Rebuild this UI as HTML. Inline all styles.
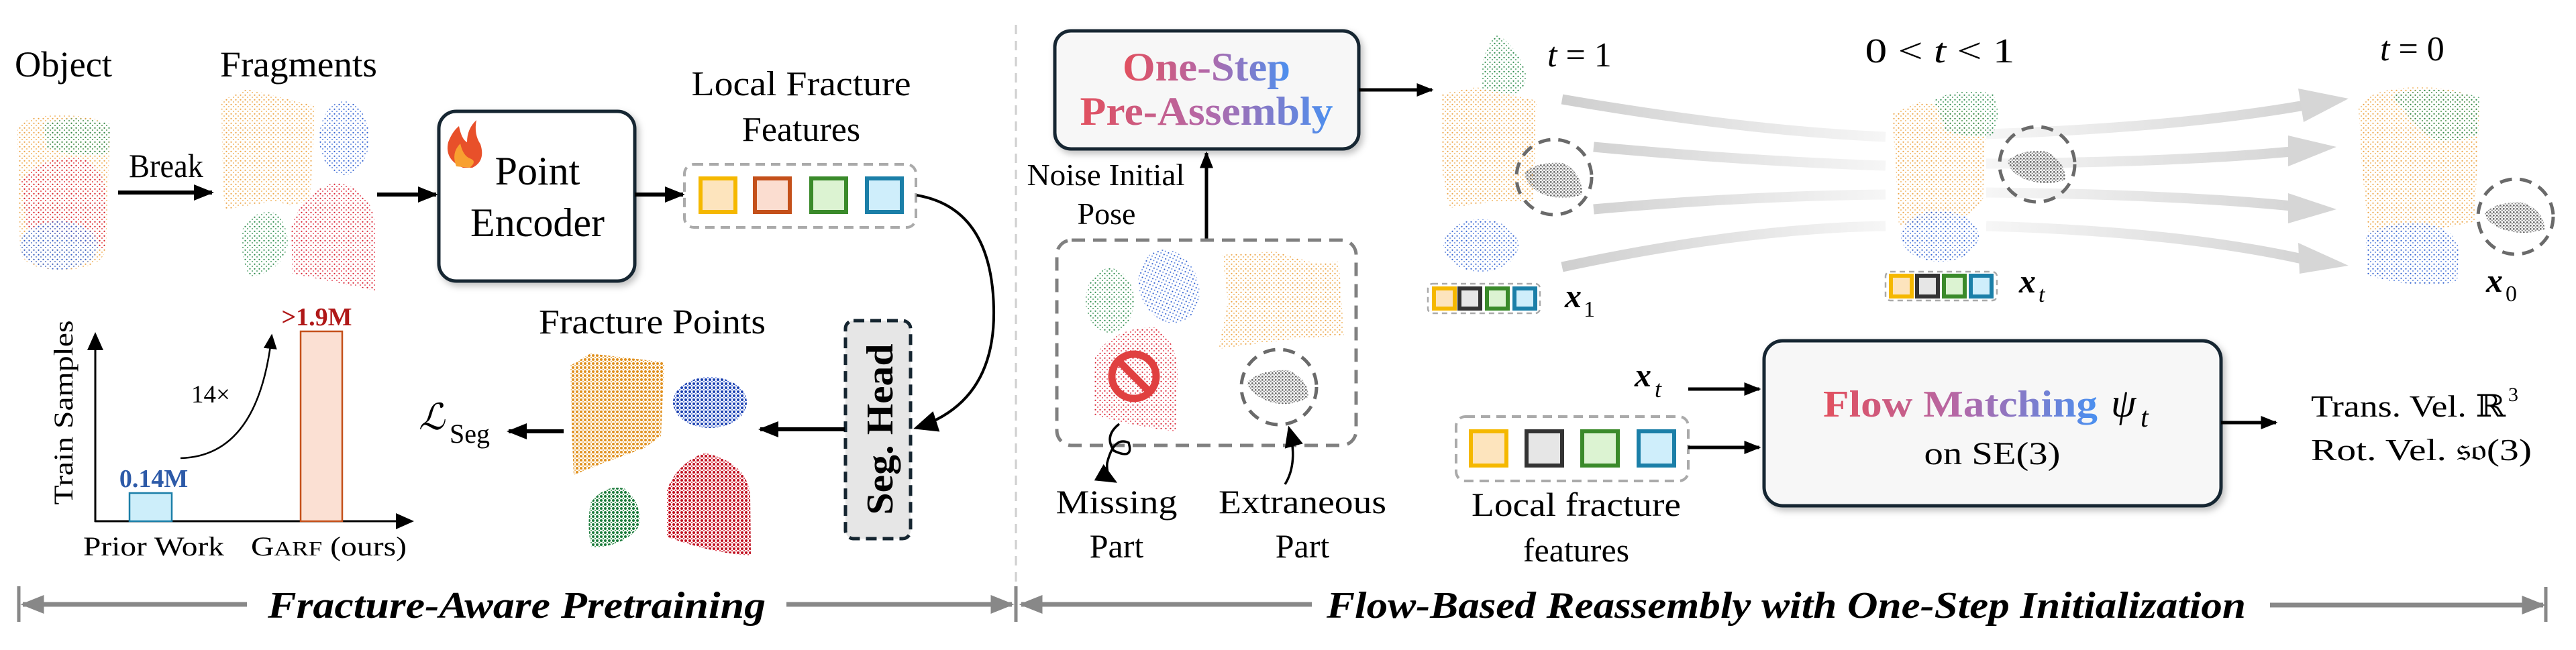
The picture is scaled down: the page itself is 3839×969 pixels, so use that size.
<!DOCTYPE html>
<html><head><meta charset="utf-8"><style>
html,body{margin:0;padding:0;background:#fff;}
svg{display:block;}
svg text{font-family:"Liberation Serif","DejaVu Serif",serif;}
</style></head><body>
<svg width="3839" height="969" viewBox="0 0 3839 969" xmlns="http://www.w3.org/2000/svg" font-family="'Liberation Serif', 'DejaVu Serif', serif">
<defs>
<marker id="ah" markerWidth="5" markerHeight="4" refX="4.5" refY="2" orient="auto" markerUnits="strokeWidth"><path d="M0,0 L5,2 L0,4 z" fill="#000"/></marker>
<marker id="ahs" markerWidth="9" markerHeight="8" refX="8" refY="4" orient="auto" markerUnits="strokeWidth"><path d="M0,0 L9,4 L0,8 z" fill="#000"/></marker>
<marker id="ag" markerWidth="5" markerHeight="4" refX="4.5" refY="2" orient="auto" markerUnits="strokeWidth"><path d="M0,0 L5,2 L0,4 z" fill="#888"/></marker>
<pattern id="pO" width="7" height="7" patternUnits="userSpaceOnUse"><circle cx="1.5" cy="1.8" r="1.1" fill="#eca548"/><circle cx="5" cy="5" r="1" fill="#f2b868"/></pattern>
<pattern id="pB" width="7" height="7" patternUnits="userSpaceOnUse"><circle cx="1.5" cy="1.8" r="1.1" fill="#2f5fd0"/><circle cx="5" cy="5" r="1" fill="#6088e0"/></pattern>
<pattern id="pG" width="7" height="7" patternUnits="userSpaceOnUse"><circle cx="1.5" cy="1.8" r="1.1" fill="#2a8a4a"/><circle cx="5" cy="5" r="1" fill="#50a068"/></pattern>
<pattern id="pR" width="7" height="7" patternUnits="userSpaceOnUse"><circle cx="1.5" cy="1.8" r="1.1" fill="#d82030"/><circle cx="5" cy="5" r="1" fill="#e85060"/></pattern>
<pattern id="pK" width="5" height="5" patternUnits="userSpaceOnUse"><circle cx="1.3" cy="1.3" r="1.4" fill="#6a6a6a"/><circle cx="3.8" cy="3.6" r="1.2" fill="#909090"/></pattern>
<pattern id="dO" width="6" height="6" patternUnits="userSpaceOnUse"><circle cx="2" cy="2" r="2" fill="#e0901e"/><circle cx="5" cy="5" r="1.1" fill="#f0b860"/></pattern>
<pattern id="dB" width="6" height="6" patternUnits="userSpaceOnUse"><circle cx="2" cy="2" r="2" fill="#1a40b0"/><circle cx="5" cy="5" r="1.1" fill="#6080e0"/></pattern>
<pattern id="dG" width="6" height="6" patternUnits="userSpaceOnUse"><circle cx="2" cy="2" r="2" fill="#1a7a3a"/><circle cx="5" cy="5" r="1.1" fill="#50a060"/></pattern>
<pattern id="dR" width="6" height="6" patternUnits="userSpaceOnUse"><circle cx="2" cy="2" r="2" fill="#c01020"/><circle cx="5" cy="5" r="1.1" fill="#e04050"/></pattern>
<linearGradient id="tg" x1="0" y1="0" x2="1" y2="0"><stop offset="0" stop-color="#e2505e"/><stop offset="0.5" stop-color="#b468a8"/><stop offset="1" stop-color="#4a90f0"/></linearGradient>
<linearGradient id="fl" gradientUnits="userSpaceOnUse" x1="2330" y1="0" x2="2810" y2="0"><stop offset="0" stop-color="#cfcfcf"/><stop offset="1" stop-color="#f6f6f6"/></linearGradient>
<linearGradient id="fr" gradientUnits="userSpaceOnUse" x1="2960" y1="0" x2="3440" y2="0"><stop offset="0" stop-color="#f6f6f6"/><stop offset="1" stop-color="#d4d4d4"/></linearGradient>
<filter id="sh" x="-10%" y="-10%" width="125%" height="125%"><feDropShadow dx="4" dy="5" stdDeviation="5" flood-color="#000" flood-opacity="0.25"/></filter>
</defs>

<!-- LEFT -->
<text x="22" y="114" font-size="54" textLength="145" lengthAdjust="spacingAndGlyphs">Object</text>
<text x="328" y="114" font-size="54" textLength="234" lengthAdjust="spacingAndGlyphs">Fragments</text>
<path d="M26,195 Q30,172 90,172 Q160,172 164,195 L158,372 Q150,402 90,402 Q34,402 30,372 Z" fill="url(#pO)"/>
<path d="M64,185 Q110,168 164,185 L162,228 Q120,238 70,220 Z" fill="url(#pG)"/>
<path d="M32,270 Q60,232 120,236 Q158,245 158,300 L156,372 L40,340 Z" fill="url(#pR)"/>
<ellipse cx="88" cy="366" rx="58" ry="36" fill="url(#pB)"/>
<text x="192" y="264" font-size="50" textLength="111" lengthAdjust="spacingAndGlyphs">Break</text>
<line x1="176" y1="287" x2="316" y2="287" stroke="#000" stroke-width="6" marker-end="url(#ah)"/>
<polygon points="330,150 368,133 470,158 462,300 432,306 410,300 336,312 332,280" fill="url(#pO)"/>
<ellipse cx="513" cy="206" rx="37" ry="55" fill="url(#pB)"/>
<path d="M362,340 Q380,310 412,318 Q432,340 428,370 Q415,408 372,412 Q356,380 362,340 Z" fill="url(#pG)"/>
<path d="M434,340 Q450,285 500,272 Q556,280 559,340 L559,433 Q520,425 436,408 Z" fill="url(#pR)"/>
<line x1="562" y1="290" x2="650" y2="290" stroke="#000" stroke-width="6" marker-end="url(#ah)"/>
<rect x="654" y="166" width="292" height="253" rx="26" fill="#fff" stroke="#152530" stroke-width="5" filter="url(#sh)"/>
<path d="M690,250 Q662,238 668,212 Q674,196 684,188 Q688,208 696,212 Q696,192 710,179 Q706,200 716,215 Q724,240 704,250 Z" fill="#e8502a"/>
<path d="M680,248 Q672,228 686,214 Q690,232 700,236 Q712,240 700,250 Z" fill="#f8a030"/>
<text x="801" y="275" font-size="60" text-anchor="middle">Point</text>
<text x="801" y="352" font-size="60" text-anchor="middle">Encoder</text>
<line x1="946" y1="290" x2="1018" y2="290" stroke="#000" stroke-width="6" marker-end="url(#ah)"/>
<text x="1194" y="142" font-size="52" text-anchor="middle" textLength="327" lengthAdjust="spacingAndGlyphs">Local Fracture</text>
<text x="1194" y="210" font-size="52" text-anchor="middle">Features</text>
<rect x="1020" y="245" width="345" height="94" rx="14" fill="#fff" stroke="#aaa" stroke-width="4" stroke-dasharray="14,9"/>
<rect x="1044" y="266" width="52" height="50" fill="#fde4bd" stroke="#f5b800" stroke-width="6"/>
<rect x="1125" y="266" width="52" height="50" fill="#fbddd0" stroke="#c4501a" stroke-width="6"/>
<rect x="1209" y="266" width="52" height="50" fill="#dcf3d2" stroke="#3a8a2a" stroke-width="6"/>
<rect x="1292" y="266" width="52" height="50" fill="#cfeefb" stroke="#1b7fa8" stroke-width="6"/>
<path d="M1366,291 Q1478,310 1481,460 Q1484,600 1365,638" fill="none" stroke="#000" stroke-width="4" marker-end="url(#ahs)"/>
<rect x="1260" y="478" width="97" height="325" rx="12" fill="#e6e6e6" stroke="#152530" stroke-width="5" stroke-dasharray="16,9"/>
<text transform="translate(1330,640) rotate(-90)" font-size="56" font-weight="bold" text-anchor="middle" textLength="255" lengthAdjust="spacingAndGlyphs">Seg. Head</text>
<line x1="1259" y1="640" x2="1133" y2="640" stroke="#000" stroke-width="6" marker-end="url(#ah)"/>
<text x="972" y="497" font-size="52" text-anchor="middle" textLength="338" lengthAdjust="spacingAndGlyphs">Fracture Points</text>
<polygon points="850,545 880,527 990,540 985,650 960,668 900,690 855,708 852,640" fill="url(#dO)"/>
<ellipse cx="1058" cy="600" rx="55" ry="38" fill="url(#dB)"/>
<path d="M880,750 Q900,722 930,728 Q958,750 952,785 Q930,815 882,816 Q874,790 880,750 Z" fill="url(#dG)"/>
<path d="M994,730 Q1010,690 1050,675 Q1115,690 1118,740 L1119,828 Q1060,825 994,800 Z" fill="url(#dR)"/>
<line x1="840" y1="643" x2="758" y2="643" stroke="#000" stroke-width="6" marker-end="url(#ah)"/>
<text x="624" y="640" font-size="54" font-style="italic">ℒ</text><text x="670" y="660" font-size="40">Seg</text>
<line x1="142" y1="778" x2="142" y2="498" stroke="#000" stroke-width="3" marker-end="url(#ahs)"/>
<line x1="141" y1="777" x2="614" y2="777" stroke="#000" stroke-width="3" marker-end="url(#ahs)"/>
<rect x="193" y="735" width="63" height="42" fill="#cdeefa" stroke="#1b7fa8" stroke-width="2.5"/>
<rect x="448" y="494" width="62" height="283" fill="#fbe0d3" stroke="#c4501a" stroke-width="2.5"/>
<text x="229" y="726" font-size="38" font-weight="bold" fill="#2d5aa8" text-anchor="middle">0.14M</text>
<text x="472" y="485" font-size="38" font-weight="bold" fill="#b01818" text-anchor="middle">&gt;1.9M</text>
<text x="285" y="600" font-size="37">14×</text>
<path d="M269,683 Q385,680 405,500" fill="none" stroke="#000" stroke-width="2.5" marker-end="url(#ahs)"/>
<text transform="translate(108,615) rotate(-90)" font-size="40" text-anchor="middle" textLength="275" lengthAdjust="spacingAndGlyphs">Train Samples</text>
<text x="229" y="828" font-size="40" text-anchor="middle" textLength="210" lengthAdjust="spacingAndGlyphs">Prior Work</text>
<text x="374" y="828" font-size="40" textLength="232" lengthAdjust="spacingAndGlyphs">G<tspan font-size="31">ARF</tspan> (ours)</text>

<line x1="28" y1="874" x2="28" y2="927" stroke="#888" stroke-width="5"/>
<line x1="368" y1="901" x2="34" y2="901" stroke="#888" stroke-width="7" marker-end="url(#ag)"/>
<text x="770" y="921" font-size="56" font-weight="bold" font-style="italic" text-anchor="middle" textLength="742" lengthAdjust="spacingAndGlyphs">Fracture-Aware Pretraining</text>
<line x1="1172" y1="901" x2="1508" y2="901" stroke="#888" stroke-width="7" marker-end="url(#ag)"/>
<line x1="1514" y1="37" x2="1514" y2="927" stroke="#cfcfcf" stroke-width="3" stroke-dasharray="14,10"/>
<line x1="1514" y1="874" x2="1514" y2="927" stroke="#888" stroke-width="5"/>

<!-- RIGHT -->
<rect x="1572" y="46" width="453" height="176" rx="24" fill="#f7f7f7" stroke="#152530" stroke-width="5" filter="url(#sh)"/>
<text x="1798" y="120" font-size="60" font-weight="bold" fill="url(#tg)" text-anchor="middle" textLength="250" lengthAdjust="spacingAndGlyphs">One-Step</text>
<text x="1798" y="186" font-size="60" font-weight="bold" fill="url(#tg)" text-anchor="middle" textLength="377" lengthAdjust="spacingAndGlyphs">Pre-Assembly</text>
<line x1="2025" y1="134" x2="2134" y2="134" stroke="#000" stroke-width="5" marker-end="url(#ah)"/>
<line x1="1798" y1="358" x2="1798" y2="228" stroke="#000" stroke-width="5" marker-end="url(#ah)"/>
<text x="1648" y="276" font-size="46" text-anchor="middle" textLength="235" lengthAdjust="spacingAndGlyphs">Noise Initial</text>
<text x="1649" y="334" font-size="46" text-anchor="middle">Pose</text>
<rect x="1575" y="358" width="446" height="306" rx="22" fill="none" stroke="#808080" stroke-width="5" stroke-dasharray="20,12"/>
<ellipse cx="1654" cy="448" rx="36" ry="48" fill="url(#pG)"/>
<ellipse cx="1742" cy="427" rx="44" ry="56" transform="rotate(-20 1742 427)" fill="url(#pB)"/>
<polygon points="1822,380 1900,375 1958,392 1995,390 2003,500 1930,505 1816,520 1830,450" fill="url(#pO)"/>
<path d="M1632,530 Q1660,488 1720,488 Q1755,505 1755,560 L1752,643 Q1690,636 1630,618 Z" fill="url(#pR)"/>
<circle cx="1690" cy="561" r="33" fill="none" stroke="#e04040" stroke-width="11"/>
<line x1="1667" y1="538" x2="1713" y2="584" stroke="#e04040" stroke-width="11"/>
<circle cx="1906" cy="577" r="56" fill="none" stroke="#6a6a6a" stroke-width="5" stroke-dasharray="18,12"/>
<path d="M1858,570 Q1880,550 1920,552 Q1950,565 1950,592 Q1925,607 1895,600 Q1865,590 1858,570 Z" fill="url(#pK)"/>
<path d="M1668,632 Q1645,650 1660,672 Q1690,686 1682,660 Q1660,650 1650,690 Q1648,710 1662,718" fill="none" stroke="#000" stroke-width="3.5" marker-end="url(#ahs)"/>
<path d="M1915,722 Q1935,690 1921,638" fill="none" stroke="#000" stroke-width="3.5" marker-end="url(#ahs)"/>
<text x="1664" y="765" font-size="50" text-anchor="middle" textLength="181" lengthAdjust="spacingAndGlyphs">Missing</text>
<text x="1664" y="831" font-size="50" text-anchor="middle">Part</text>
<text x="1941" y="765" font-size="50" text-anchor="middle" textLength="250" lengthAdjust="spacingAndGlyphs">Extraneous</text>
<text x="1941" y="831" font-size="50" text-anchor="middle">Part</text>

<g fill="none" stroke-width="15">
<path d="M2328,148 Q2600,195 2810,204" stroke="url(#fl)"/>
<path d="M2375,219 Q2600,240 2810,247" stroke="url(#fl)"/>
<path d="M2375,312 Q2600,292 2810,290" stroke="url(#fl)"/>
<path d="M2328,398 Q2600,340 2810,337" stroke="url(#fl)"/>
<path d="M2960,200 Q3250,190 3440,156" stroke="url(#fr)"/>
<path d="M2960,244 Q3250,242 3425,225" stroke="url(#fr)"/>
<path d="M2960,287 Q3250,290 3425,308" stroke="url(#fr)"/>
<path d="M2960,337 Q3250,345 3440,388" stroke="url(#fr)"/>
</g>
<g fill="#d6d6d6">
<polygon points="3425,132 3500,147 3433,182"/>
<polygon points="3410,202 3482,219 3410,248"/>
<polygon points="3410,288 3482,312 3410,333"/>
<polygon points="3425,362 3500,396 3427,408"/>
</g>
<text x="2306" y="99" font-size="52"><tspan font-style="italic">t</tspan> = 1</text>
<path d="M2210,135 Q2200,90 2230,50 Q2262,70 2274,110 Q2275,140 2250,142 Z" fill="url(#pG)"/>
<polygon points="2148,140 2200,130 2290,150 2285,300 2230,300 2160,310 2150,260" fill="url(#pO)"/>
<circle cx="2316" cy="264" r="56" fill="none" stroke="#6a6a6a" stroke-width="5" stroke-dasharray="18,12"/>
<path d="M2272,258 Q2290,240 2330,243 Q2358,258 2358,290 Q2330,300 2300,290 Q2275,278 2272,258 Z" fill="url(#pK)"/>
<ellipse cx="2207" cy="366" rx="56" ry="39" fill="url(#pB)"/>
<rect x="2128" y="423" width="167" height="44" rx="7" fill="#fff" stroke="#aaa" stroke-width="2.5" stroke-dasharray="8,6"/>
<rect x="2137" y="430" width="31" height="30" fill="#fde4bd" stroke="#f5b800" stroke-width="6"/>
<rect x="2175" y="430" width="31" height="30" fill="#e6e6e6" stroke="#333" stroke-width="6"/>
<rect x="2216" y="430" width="31" height="30" fill="#dcf3d2" stroke="#3a8a2a" stroke-width="6"/>
<rect x="2257" y="430" width="31" height="30" fill="#cfeefb" stroke="#1b7fa8" stroke-width="6"/>
<text x="2332" y="458" font-size="50" font-weight="bold" font-style="italic">x</text><text x="2360" y="472" font-size="34">1</text>
<text x="2891" y="93" font-size="52" text-anchor="middle" textLength="223" lengthAdjust="spacingAndGlyphs">0 &lt; <tspan font-style="italic">t</tspan> &lt; 1</text>
<polygon points="2820,170 2860,152 2960,170 2955,300 2935,320 2830,337 2826,260" fill="url(#pO)"/>
<path d="M2882,150 Q2920,128 2970,140 Q2985,170 2968,204 Q2930,205 2900,195 Z" fill="url(#pG)"/>
<ellipse cx="2891" cy="352" rx="58" ry="38" fill="url(#pB)"/>
<circle cx="3036" cy="245" r="56" fill="none" stroke="#6a6a6a" stroke-width="5" stroke-dasharray="18,12"/>
<path d="M2992,240 Q3010,222 3050,226 Q3078,240 3078,268 Q3050,278 3020,268 Q2995,258 2992,240 Z" fill="url(#pK)"/>
<rect x="2810" y="405" width="166" height="43" rx="7" fill="#fff" stroke="#aaa" stroke-width="2.5" stroke-dasharray="8,6"/>
<rect x="2818" y="411" width="31" height="31" fill="#fde4bd" stroke="#f5b800" stroke-width="6"/>
<rect x="2857" y="411" width="31" height="31" fill="#e6e6e6" stroke="#333" stroke-width="6"/>
<rect x="2897" y="411" width="31" height="31" fill="#dcf3d2" stroke="#3a8a2a" stroke-width="6"/>
<rect x="2937" y="411" width="31" height="31" fill="#cfeefb" stroke="#1b7fa8" stroke-width="6"/>
<text x="3009" y="436" font-size="50" font-weight="bold" font-style="italic">x</text><text x="3038" y="450" font-size="34" font-style="italic">t</text>
<text x="3547" y="90" font-size="52"><tspan font-style="italic">t</tspan> = 0</text>
<path d="M3515,160 Q3530,132 3600,130 Q3690,130 3695,160 L3688,330 Q3630,346 3530,346 L3520,250 Z" fill="url(#pO)"/>
<path d="M3565,140 Q3630,125 3695,145 L3692,200 Q3660,215 3628,210 Q3585,175 3565,140 Z" fill="url(#pG)"/>
<path d="M3526,350 Q3560,330 3610,332 Q3660,340 3664,372 L3662,420 Q3600,432 3528,410 Z" fill="url(#pB)"/>
<circle cx="3749" cy="323" r="56" fill="none" stroke="#6a6a6a" stroke-width="5" stroke-dasharray="18,12"/>
<path d="M3703,318 Q3720,300 3760,302 Q3792,315 3792,342 Q3760,352 3730,342 Q3705,332 3703,318 Z" fill="url(#pK)"/>
<text x="3705" y="435" font-size="50" font-weight="bold" font-style="italic">x</text><text x="3734" y="449" font-size="34">0</text>

<text x="2436" y="576" font-size="50" font-weight="bold" font-style="italic">x</text><text x="2466" y="592" font-size="36" font-style="italic">t</text>
<line x1="2516" y1="580" x2="2622" y2="580" stroke="#000" stroke-width="5" marker-end="url(#ah)"/>
<rect x="2170" y="621" width="346" height="96" rx="14" fill="#fff" stroke="#aaa" stroke-width="4" stroke-dasharray="14,9"/>
<rect x="2192" y="643" width="53" height="51" fill="#fde4bd" stroke="#f5b800" stroke-width="6"/>
<rect x="2275" y="643" width="53" height="51" fill="#e6e6e6" stroke="#333" stroke-width="6"/>
<rect x="2358" y="643" width="53" height="51" fill="#dcf3d2" stroke="#3a8a2a" stroke-width="6"/>
<rect x="2442" y="643" width="53" height="51" fill="#cfeefb" stroke="#1b7fa8" stroke-width="6"/>
<line x1="2516" y1="667" x2="2622" y2="667" stroke="#000" stroke-width="5" marker-end="url(#ah)"/>
<text x="2349" y="769" font-size="50" text-anchor="middle" textLength="312" lengthAdjust="spacingAndGlyphs">Local fracture</text>
<text x="2349" y="837" font-size="50" text-anchor="middle">features</text>
<rect x="2629" y="508" width="681" height="246" rx="28" fill="#f7f7f7" stroke="#152530" stroke-width="5" filter="url(#sh)"/>
<text x="2717" y="621" font-size="56" font-weight="bold" fill="url(#tg)" textLength="409" lengthAdjust="spacingAndGlyphs">Flow Matching</text>
<text x="3146" y="621" font-size="60" font-style="italic">ψ</text><text x="3190" y="636" font-size="42" font-style="italic">t</text>
<text x="2969" y="692" font-size="48" text-anchor="middle" textLength="203" lengthAdjust="spacingAndGlyphs">on SE(3)</text>
<line x1="3310" y1="630" x2="3392" y2="630" stroke="#000" stroke-width="5" marker-end="url(#ah)"/>
<text x="3444" y="621" font-size="46" textLength="290" lengthAdjust="spacingAndGlyphs">Trans. Vel. ℝ</text><text x="3738" y="598" font-size="30">3</text>
<text x="3444" y="686" font-size="46" textLength="329" lengthAdjust="spacingAndGlyphs">Rot. Vel. 𝔰𝔬(3)</text>

<line x1="1955" y1="901" x2="1522" y2="901" stroke="#888" stroke-width="7" marker-end="url(#ag)"/>
<text x="2662" y="921" font-size="56" font-weight="bold" font-style="italic" text-anchor="middle" textLength="1370" lengthAdjust="spacingAndGlyphs">Flow-Based Reassembly with One-Step Initialization</text>
<line x1="3383" y1="902" x2="3790" y2="902" stroke="#888" stroke-width="7" marker-end="url(#ag)"/>
<line x1="3794" y1="875" x2="3794" y2="927" stroke="#888" stroke-width="5"/>
</svg>
</body></html>
